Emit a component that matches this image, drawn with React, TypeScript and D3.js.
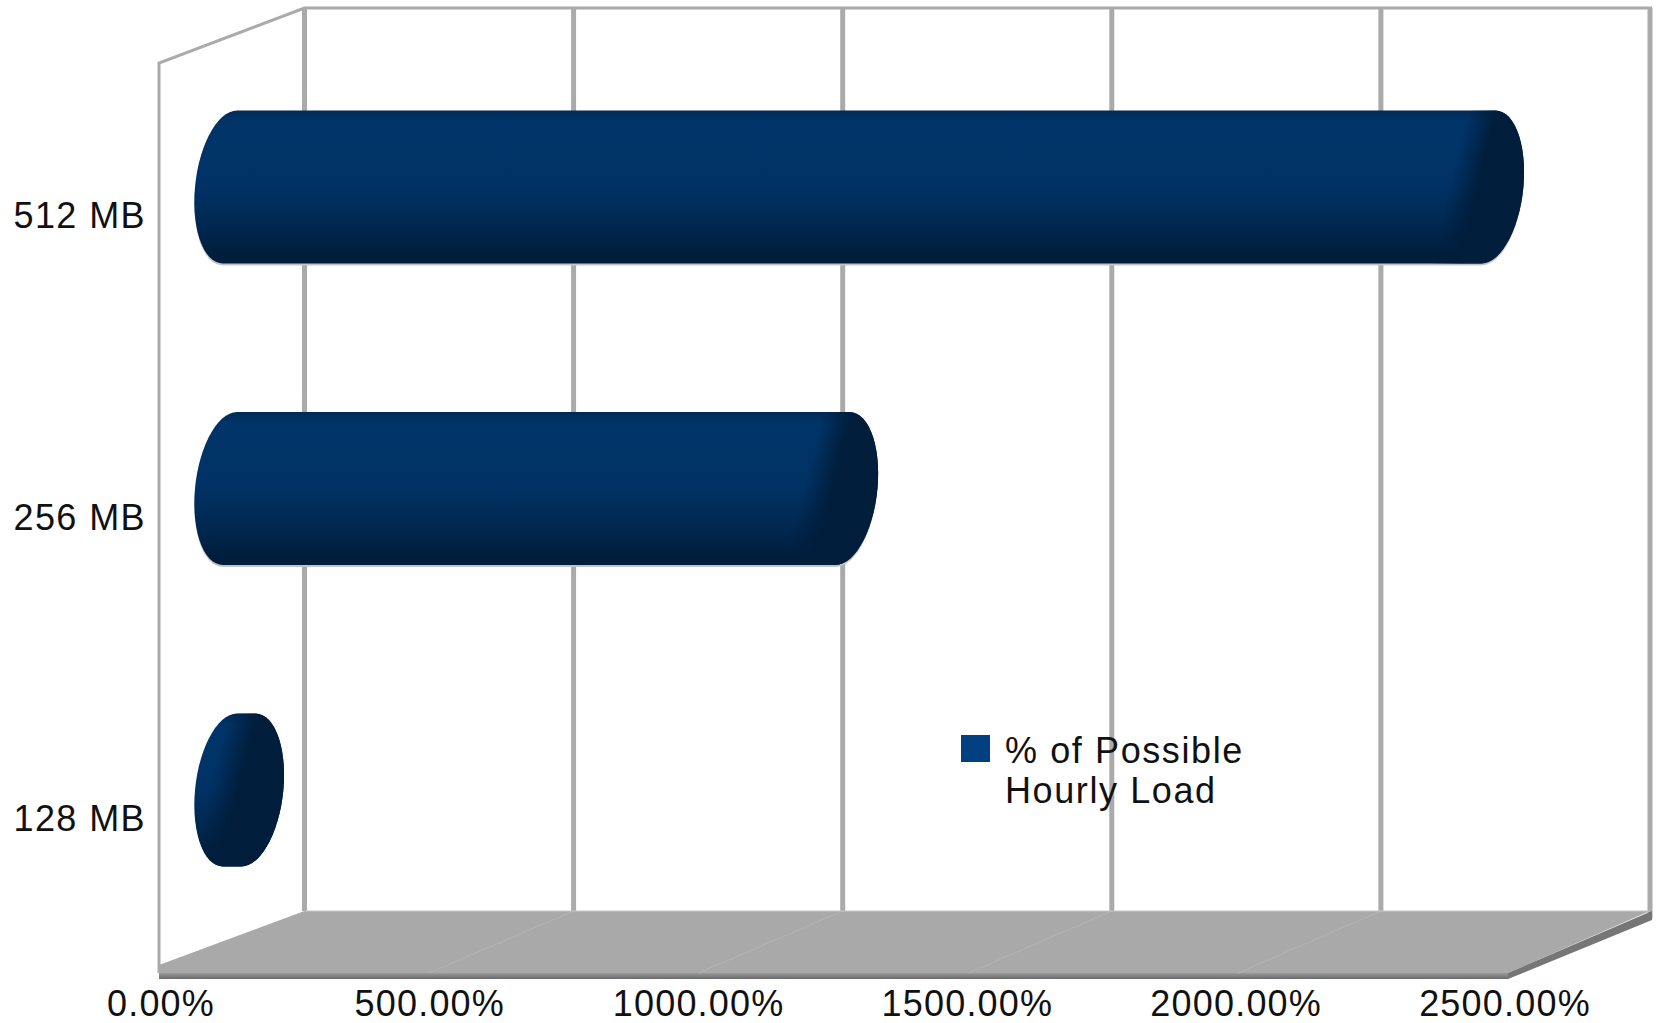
import React from "react";
import * as d3 from "d3";

const categories = ["512 MB", "256 MB", "128 MB"];
const values = [2332, 1135, 34];
const xTicks = [0, 500, 1000, 1500, 2000, 2500];
const legendLines = ["% of Possible", "Hourly Load"];

const W = 1658, H = 1023;
const FX0 = 159, FX1 = 1508;
const BACK_Y = 911, FRONT_Y = 973, TOP_Y = 8;
const x = d3.scaleLinear().domain([0, 2500]).range([FX0, FX1]);
const xLabel = d3.scaleLinear().domain([0, 2500]).range([161, 1505]);
const xBack = d3.scaleLinear().domain([0, 2500]).range([304.5, 1650]);
const y = d3.scalePoint<string>().domain(categories).range([187, 790]);
const BAR_H = 153, RX = 35, SHEAR = 7, BAR_OFFSET = 71;
const GRAY = "#aaaaaa";

function barPath(v: number, cy: number) {
  const c0 = x(0) + BAR_OFFSET, c1 = x(v) + BAR_OFFSET;
  const ry = BAR_H / 2;
  const left = d3.range(90, 271, 6).map((a) => {
    const t = (a * Math.PI) / 180;
    return [c0 + RX * Math.cos(t) - SHEAR * Math.sin(t), cy + ry * Math.sin(t)] as [number, number];
  });
  const right = d3.range(270, 451, 6).map((a) => {
    const t = (a * Math.PI) / 180;
    return [c1 + RX * Math.cos(t) - SHEAR * Math.sin(t), cy + ry * Math.sin(t)] as [number, number];
  });
  return d3.line().curve(d3.curveLinearClosed)([...left, ...right]) as string;
}

export default function App() {
  const gridXs = xTicks.map((t) => xBack(t));
  const backRight = xBack(2500);
  return (
    <svg width={W} height={H} style={{ position: "absolute", left: 0, top: 0, background: "#fff" }}
      fontFamily="'Liberation Sans', Arial, sans-serif">
      <defs>
        <linearGradient id="body" x1="0" y1="0" x2="0" y2="1">
          <stop offset="0" stopColor="#002a57" />
          <stop offset="0.07" stopColor="#003468" />
          <stop offset="0.5" stopColor="#003265" />
          <stop offset="0.75" stopColor="#002851" />
          <stop offset="0.95" stopColor="#001d3b" />
          <stop offset="1" stopColor="#001d3b" />
        </linearGradient>
        <linearGradient id="floorEdge" x1="0" y1="0" x2="0" y2="1">
          <stop offset="0" stopColor="#9a9a9a" />
          <stop offset="1" stopColor="#6a6a6a" />
        </linearGradient>
        {values.map((v, i) => {
          const c1 = x(v) + BAR_OFFSET, cy = y(categories[i]) as number;
          return (
            <linearGradient key={i} id={`cap${i}`} gradientUnits="userSpaceOnUse"
              x1={c1 - 38} y1={cy - 4} x2={c1 - 10} y2={cy + 3}>
              <stop offset="0" stopColor="#001d3b" stopOpacity={0} />
              <stop offset="1" stopColor="#001d3b" stopOpacity={1} />
            </linearGradient>
          );
        })}
      </defs>

      {/* back wall */}
      <path d={`M${FX0},${FRONT_Y} L${FX0},${TOP_Y + 55} L${gridXs[0]},${TOP_Y} L${backRight + 2},${TOP_Y}`}
        fill="none" stroke={GRAY} strokeWidth={3} />
      {gridXs.map((gx, i) => (
        <line key={i} x1={gx} x2={gx} y1={TOP_Y} y2={i === 5 ? BACK_Y + 8 : BACK_Y} stroke={GRAY} strokeWidth={5} />
      ))}

      {/* floor */}
      <polygon points={`${FX0},${FRONT_Y - 8} ${gridXs[0]},${BACK_Y} ${backRight},${BACK_Y} ${FX1},${FRONT_Y} ${FX1},${FRONT_Y + 6} ${FX0},${FRONT_Y + 6}`}
        fill="#a9a9a9" />
      <rect x={FX0} y={FRONT_Y} width={FX1 - FX0} height={6} fill="url(#floorEdge)" />
      <polygon points={`${FX1},${FRONT_Y} ${backRight + 2},${BACK_Y} ${backRight + 2},${BACK_Y + 9} ${FX1},${FRONT_Y + 6}`}
        fill="#767676" />
      {xTicks.slice(1, 5).map((t) => (
        <line key={t} x1={x(t)} y1={FRONT_Y} x2={xBack(t)} y2={BACK_Y} stroke="#b2b2b2" strokeWidth={1.2} />
      ))}
      <line x1={gridXs[0]} x2={backRight} y1={BACK_Y} y2={BACK_Y} stroke="#c8c8c8" strokeWidth={1.2} />

      {/* bars */}
      {values.map((v, i) => {
        const cy = y(categories[i]) as number;
        const d = barPath(v, cy);
        return (
          <g key={categories[i]}>
            <path d={d} transform="translate(0,2)" fill="#c4c4c4" opacity={i === 2 ? 0 : 1} />
            <path d={d} fill="url(#body)" />
            <path d={d} fill={`url(#cap${i})`} />
          </g>
        );
      })}

      {/* category labels */}
      {categories.map((c) => (
        <text key={c} x={146} y={(y(c) as number) + 41} textAnchor="end" fontSize={36} letterSpacing={1.4} fill="#111">{c}</text>
      ))}
      {/* value labels */}
      {xTicks.map((t) => (
        <text key={t} x={xLabel(t)} y={1016} textAnchor="middle" fontSize={36} letterSpacing={1.2} fill="#111">{d3.format(".2f")(t)}%</text>
      ))}
      {/* legend */}
      <rect x={961} y={735} width={29} height={27} fill="#004080" />
      {legendLines.map((l, i) => (
        <text key={l} x={1005} y={763 + i * 40} fontSize={36} letterSpacing={1.6} fill="#111">{l}</text>
      ))}
    </svg>
  );
}
